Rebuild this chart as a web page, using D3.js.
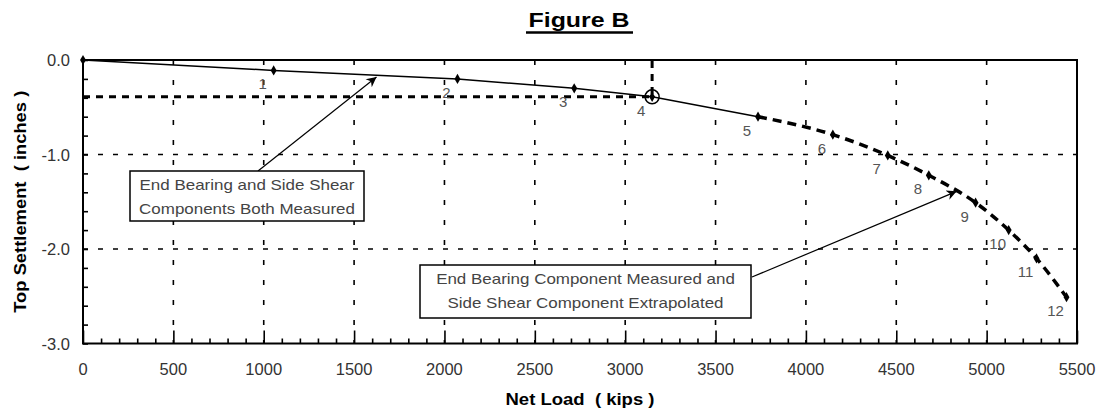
<!DOCTYPE html>
<html>
<head>
<meta charset="utf-8">
<script src="https://cdn.jsdelivr.net/npm/d3@7"></script>
<style>
  body { margin: 0; background: #fff; }
  svg { display: block; font-family: "Liberation Sans", Arial, sans-serif; }
</style>
</head>
<body>
<div id="chart"></div>
<script>
// load test points (kips) and top settlement (inches)
var loads    = [0, 1055, 2072, 2718, 3149, 3735, 4149, 4453, 4680, 4939, 5122, 5276, 5442];
var settles  = [0, -0.11, -0.20, -0.30, -0.39, -0.60, -0.79, -1.01, -1.22, -1.51, -1.80, -2.10, -2.51];
var pointLabels = ["", "1", "2", "3", "4", "5", "6", "7", "8", "9", "10", "11", "12"];
var measuredEnd = 5;   // last index of measured part

var xTicks = [0, 500, 1000, 1500, 2000, 2500, 3000, 3500, 4000, 4500, 5000, 5500];
var yTicks = [0, -1, -2, -3];

// reference point (circled) and annotation arrow targets
var refPoint = { load: 3149, settle: -0.39 };
var notes = [
    { lines: ["End Bearing and Side Shear", "Components Both Measured"], load: 1624, settle: -0.18 },
    { lines: ["End Bearing Component Measured and", "Side Shear Component Extrapolated"], load: 4834, settle: -1.39 }
];

var width = 1102, height = 416;
var margin = { top: 60, right: 25, bottom: 72.5, left: 83 };

var svg = d3.select("#chart").append("svg")
    .attr("width", width)
    .attr("height", height);

var defs = svg.append("defs");
defs.append("marker")
    .attr("id", "arrow")
    .attr("viewBox", "0 0 10 10")
    .attr("refX", 10).attr("refY", 5)
    .attr("markerWidth", 15).attr("markerHeight", 10)
    .attr("markerUnits", "userSpaceOnUse")
    .attr("orient", "auto")
  .append("path")
    .attr("d", "M0,0L10,5L0,10L3,5Z")
    .attr("fill", "#000");

var x = d3.scaleLinear().domain([0, 5500]).range([margin.left, width - margin.right]);
var y = d3.scaleLinear().domain([-3, 0]).range([height - margin.bottom, margin.top]);

// title
svg.append("text")
    .attr("x", 579).attr("y", 27)
    .attr("text-anchor", "middle")
    .attr("font-size", 21).attr("font-weight", "bold")
    .attr("textLength", 101).attr("lengthAdjust", "spacingAndGlyphs")
    .text("Figure B");
svg.append("line")
    .attr("x1", 526).attr("x2", 633)
    .attr("y1", 32.5).attr("y2", 32.5)
    .attr("stroke", "#000").attr("stroke-width", 2.5);

// grid
var grid = svg.append("g").attr("class", "grid");
grid.selectAll("line.v")
    .data(xTicks.filter(function(d) { return d > 0 && d < 5500; }))
    .enter().append("line")
    .attr("class", "v")
    .attr("x1", function(d) { return x(d); }).attr("x2", function(d) { return x(d); })
    .attr("y1", y(0)).attr("y2", y(-3))
    .attr("stroke", "#000").attr("stroke-width", 1.6)
    .attr("stroke-dasharray", "5,15");
grid.selectAll("line.h")
    .data(yTicks.filter(function(d) { return d < 0 && d > -3; }))
    .enter().append("line")
    .attr("class", "h")
    .attr("x1", x(0)).attr("x2", x(5500))
    .attr("y1", function(d) { return y(d); }).attr("y2", function(d) { return y(d); })
    .attr("stroke", "#000").attr("stroke-width", 1.6)
    .attr("stroke-dasharray", "5,10");

// axes with inward ticks
var xMinor = d3.range(0, 5501, 100);
var xAxis = svg.append("g")
    .attr("transform", "translate(0," + y(-3) + ")")
    .call(d3.axisBottom(x).tickValues(xMinor).tickSize(-5).tickFormat(""));
xAxis.selectAll(".tick line")
    .attr("y2", function(d) { return d % 500 === 0 ? -13 : -5; })
    .attr("stroke-width", 1.6);
xAxis.select(".domain").remove();
svg.append("g")
    .attr("transform", "translate(0," + (y(-3) + 31.5) + ")")
    .selectAll("text").data(xTicks).enter().append("text")
    .attr("x", function(d) { return x(d); })
    .attr("text-anchor", "middle")
    .attr("font-size", 16.5).attr("fill", "#333")
    .text(function(d) { return d; });

var yMinor = d3.range(-30, 1, 2).map(function(d) { return d / 10; });
var yAxis = svg.append("g")
    .attr("transform", "translate(" + x(0) + ",0)")
    .call(d3.axisLeft(y).tickValues(yMinor).tickSize(-5).tickFormat(""));
yAxis.selectAll(".tick line").attr("stroke-width", 1.6);
yAxis.select(".domain").remove();
svg.append("g")
    .selectAll("text").data(yTicks).enter().append("text")
    .attr("x", x(0) - 13)
    .attr("y", function(d) { return y(d) + 6; })
    .attr("text-anchor", "end")
    .attr("font-size", 16.5).attr("fill", "#333")
    .text(function(d) { return d3.format(".1f")(d).replace("−", "-"); });

// frame
svg.append("rect")
    .attr("x", x(0)).attr("y", y(0))
    .attr("width", x(5500) - x(0)).attr("height", y(-3) - y(0))
    .attr("fill", "none").attr("stroke", "#000").attr("stroke-width", 2);

// axis titles
svg.append("text")
    .attr("x", 580).attr("y", 405)
    .attr("text-anchor", "middle")
    .attr("font-size", 16.5).attr("font-weight", "bold")
    .attr("xml:space", "preserve")
    .attr("textLength", 149).attr("lengthAdjust", "spacingAndGlyphs")
    .text("Net Load  ( kips )");
svg.append("text")
    .attr("transform", "translate(26," + ((y(0) + y(-3)) / 2) + ") rotate(-90)")
    .attr("text-anchor", "middle")
    .attr("font-size", 16.5).attr("font-weight", "bold")
    .attr("xml:space", "preserve")
    .attr("textLength", 222).attr("lengthAdjust", "spacingAndGlyphs")
    .text("Top Settlement  ( inches )");

// reference dotted lines + circle
svg.append("path")
    .attr("d", "M" + x(0) + "," + y(refPoint.settle) + "H" + x(refPoint.load) + "V" + y(0))
    .attr("fill", "none").attr("stroke", "#000").attr("stroke-width", 3)
    .attr("stroke-dasharray", "7,6");
svg.append("circle")
    .attr("cx", x(refPoint.load)).attr("cy", y(refPoint.settle)).attr("r", 7)
    .attr("fill", "none").attr("stroke", "#000").attr("stroke-width", 1.5);

// curve
var pts = loads.map(function(d, i) { return { load: d, settle: settles[i], label: pointLabels[i] }; });
var line = d3.line()
    .x(function(d) { return x(d.load); })
    .y(function(d) { return y(d.settle); });

svg.append("path")
    .datum(pts.slice(0, measuredEnd + 1))
    .attr("d", line)
    .attr("fill", "none").attr("stroke", "#000").attr("stroke-width", 1.5);
svg.append("path")
    .datum(pts.slice(measuredEnd))
    .attr("d", d3.line().curve(d3.curveMonotoneX)
        .x(function(d) { return x(d.load); })
        .y(function(d) { return y(d.settle); }))
    .attr("fill", "none").attr("stroke", "#000").attr("stroke-width", 3.5)
    .attr("stroke-dasharray", "9,6");

// markers
svg.append("g").selectAll("path").data(pts).enter().append("path")
    .attr("transform", function(d) { return "translate(" + x(d.load) + "," + y(d.settle) + ")"; })
    .attr("d", d3.symbol().type(d3.symbolDiamond).size(30))
    .attr("fill", "#000");

// point numbers
svg.append("g").selectAll("text").data(pts.filter(function(d) { return d.label; })).enter().append("text")
    .attr("x", function(d) { return x(d.load) - 11; })
    .attr("y", function(d) { return y(d.settle) + 19; })
    .attr("text-anchor", "middle")
    .attr("font-size", 15).attr("fill", "#555")
    .text(function(d) { return d.label; });

// annotation boxes
var boxes = [
    { x: 130, y: 171, w: 234, h: 50, from: [258, 171] },
    { x: 420, y: 265, w: 331, h: 53, from: [752, 277] }
];
notes.forEach(function(n, i) {
    var b = boxes[i];
    svg.append("line")
        .attr("x1", b.from[0]).attr("y1", b.from[1])
        .attr("x2", x(n.load)).attr("y2", y(n.settle))
        .attr("stroke", "#000").attr("stroke-width", 1.2)
        .attr("marker-end", "url(#arrow)");
    svg.append("rect")
        .attr("x", b.x).attr("y", b.y).attr("width", b.w).attr("height", b.h)
        .attr("fill", "#fff").attr("stroke", "#000").attr("stroke-width", 1.5);
    svg.append("g").selectAll("text").data(n.lines).enter().append("text")
        .attr("x", b.x + b.w / 2)
        .attr("y", function(d, j) { return b.y + 19 + j * 24; })
        .attr("text-anchor", "middle")
        .attr("font-size", 15).attr("fill", "#444")
        .text(function(d) { return d; })
        .each(function() {
            // the original lettering is a bit wider than Arial
            var len = this.getComputedTextLength() * 1.13;
            d3.select(this).attr("textLength", len).attr("lengthAdjust", "spacingAndGlyphs");
        });
});
</script>
</body>
</html>
